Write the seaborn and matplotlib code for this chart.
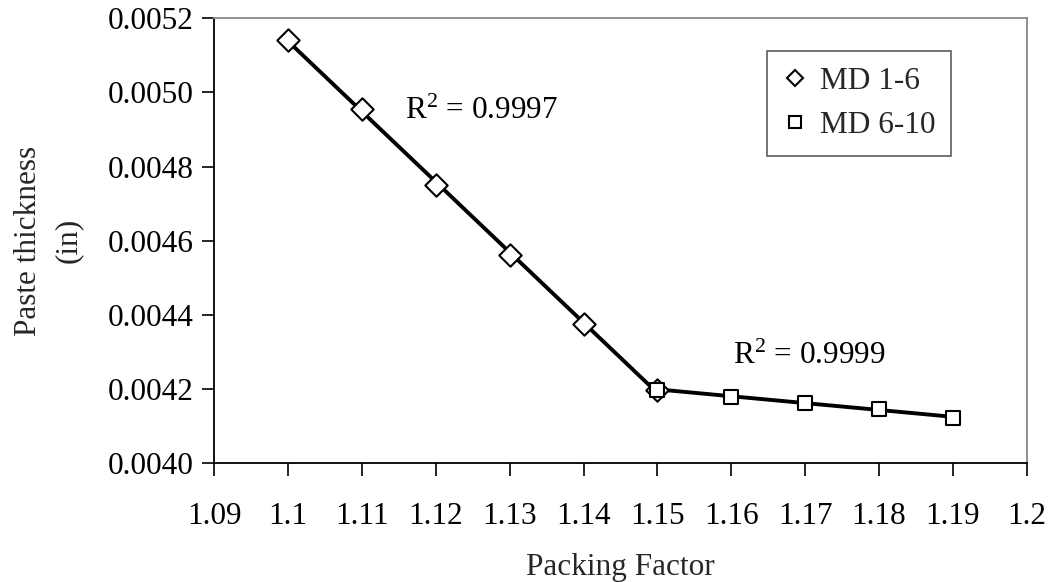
import numpy as np
import pandas as pd
import matplotlib
matplotlib.use("Agg")
import matplotlib.pyplot as plt
from matplotlib.lines import Line2D
import seaborn as sns

# ---- data ----
md16_x = [1.10, 1.11, 1.12, 1.13, 1.14, 1.15]
md16_y = [0.005141, 0.004955, 0.004750, 0.004563, 0.004375, 0.004199]
md610_x = [1.15, 1.16, 1.17, 1.18, 1.19]
md610_y = [0.004199, 0.004180, 0.004163, 0.004147, 0.004123]
series_names = ["MD 1-6", "MD 6-10"]
r2_labels = ["0.9997", "0.9999"]
x_ticks = [1.09, 1.10, 1.11, 1.12, 1.13, 1.14, 1.15, 1.16, 1.17, 1.18, 1.19, 1.20]
x_tick_labels = ["1.09", "1.1", "1.11", "1.12", "1.13", "1.14", "1.15",
                 "1.16", "1.17", "1.18", "1.19", "1.2"]
y_ticks = [0.0040, 0.0042, 0.0044, 0.0046, 0.0048, 0.0050, 0.0052]

sns.set_theme(style="white")
plt.rcParams["font.family"] = ["Liberation Serif", "DejaVu Serif"]
plt.rcParams["mathtext.fontset"] = "custom"
plt.rcParams["mathtext.rm"] = "Liberation Serif"
plt.rcParams["mathtext.it"] = "Liberation Serif:italic"

FS = 22.5

fig = plt.figure(figsize=(10.5, 5.82), dpi=100)
ax = fig.add_axes([0.2041, 0.2039, 0.7737, 0.7647])

df1 = pd.DataFrame({"x": md16_x, "y": md16_y})
df2 = pd.DataFrame({"x": md610_x, "y": md610_y})

# trend lines (linear fits through each series)
for df in (df1, df2):
    c = np.polyfit(df["x"], df["y"], 1)
    fit = pd.DataFrame({"x": [df["x"].min(), df["x"].max()]})
    fit["y"] = np.polyval(c, fit["x"])
    sns.lineplot(data=fit, x="x", y="y", ax=ax, color="black", linewidth=2.8,
                 zorder=2, legend=False)

sns.scatterplot(data=df1, x="x", y="y", ax=ax, marker="D", s=130,
                facecolor="white", edgecolor="black", linewidth=1.5, zorder=3)
sns.scatterplot(data=df2, x="x", y="y", ax=ax, marker="s", s=115,
                facecolor="white", edgecolor="black", linewidth=1.5, zorder=4)

ax.set_xlim(1.09, 1.20)
ax.set_ylim(0.0040, 0.0052)
ax.set_xticks(x_ticks)
ax.set_xticklabels(x_tick_labels, fontsize=FS)
ax.set_yticks(y_ticks)
ax.set_yticklabels([f"{v:.4f}" for v in y_ticks], fontsize=FS)
ax.tick_params(axis="both", direction="out", length=9, width=1.2,
               colors="black", bottom=True, left=True, pad=6)
ax.tick_params(axis="x", pad=19)

for side in ("left", "bottom"):
    ax.spines[side].set_color("black")
    ax.spines[side].set_linewidth(1.3)
for side in ("top", "right"):
    ax.spines[side].set_color("#888888")
    ax.spines[side].set_linewidth(1.3)

ax.set_xlabel("Packing Factor", fontsize=FS, labelpad=16)
ax.set_ylabel("Paste thickness\n(in)", fontsize=FS, labelpad=18,
              linespacing=1.5)

ax.text(1.1158, 0.00495, r"R$^{\mathrm{2}}$ = " + r2_labels[0], fontsize=FS,
        va="center", ha="left", color="black")
ax.text(1.1603, 0.004287, r"R$^{\mathrm{2}}$ = " + r2_labels[1], fontsize=FS,
        va="center", ha="left", color="black")

handles = [
    Line2D([], [], linestyle="none", marker="D", markersize=8,
           markerfacecolor="white", markeredgecolor="black", markeredgewidth=1.5),
    Line2D([], [], linestyle="none", marker="s", markersize=9,
           markerfacecolor="white", markeredgecolor="black", markeredgewidth=1.5),
]
leg = ax.legend(handles, series_names, loc="upper left",
                bbox_to_anchor=(0.680, 0.9265), fontsize=FS, frameon=True,
                fancybox=False, edgecolor="#333333", handlelength=0.8,
                handletextpad=0.4, borderpad=0.5, labelspacing=0.5,
                borderaxespad=0)
leg.get_frame().set_linewidth(1.2)

fig.savefig("out.png", dpi=100)
